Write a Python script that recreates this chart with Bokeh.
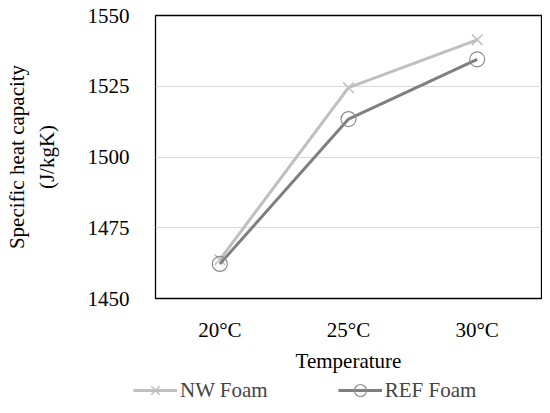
from bokeh.plotting import figure
from bokeh.layouts import column
from bokeh.models import Legend, LegendItem, FactorRange, Range1d, FixedTicker
from bokeh.embed import file_html
from bokeh.resources import INLINE

categories = ["20°C", "25°C", "30°C"]
nw_foam = [1463.7, 1524.5, 1541.4]
ref_foam = [1462.2, 1513.4, 1534.5]
y_ticks = [1450, 1475, 1500, 1525, 1550]
series_names = ["NW Foam", "REF Foam"]

FONT = "Liberation Serif"
NW_C = "#BFBFBF"
REF_C = "#7F7F7F"
CIRCLE_C = "#8C8C8C"

# ---------------- main chart ----------------
p = figure(width=542, height=375, x_range=FactorRange(*categories),
           y_range=Range1d(1450, 1550), output_backend="svg",
           toolbar_location=None, min_border_left=155, min_border_right=1,
           min_border_top=15, min_border_bottom=76)

p.outline_line_color = "black"
p.outline_line_width = 1.3
p.xgrid.grid_line_color = None
p.ygrid.grid_line_color = "#D9D9D9"
p.ygrid.grid_line_width = 1.2
p.yaxis.ticker = FixedTicker(ticks=y_ticks)

for ax in (p.xaxis[0], p.yaxis[0]):
    ax.axis_line_color = None
    ax.major_tick_line_color = None
    ax.minor_tick_line_color = None
    ax.major_label_text_font = FONT
    ax.major_label_text_font_size = "21px"
    ax.major_label_text_color = "black"
    ax.axis_label_text_font = FONT
    ax.axis_label_text_font_size = "21px"
    ax.axis_label_text_font_style = "normal"
    ax.axis_label_text_color = "black"

p.yaxis.major_label_standoff = 20
p.yaxis.axis_label = "Specific heat capacity\n(J/kgK)"
p.yaxis.axis_label_text_line_height = 1.25
p.yaxis.axis_label_standoff = 26
p.xaxis.major_label_standoff = 13
p.xaxis.axis_label = "Temperature"
p.xaxis.axis_label_standoff = 4

p.line(categories, nw_foam, line_color=NW_C, line_width=3)
p.scatter(categories, nw_foam, marker="x", size=15, line_color=NW_C, line_width=1.5)
p.line(categories, ref_foam, line_color=REF_C, line_width=3)
p.scatter(categories, ref_foam, marker="circle", size=15, line_color=CIRCLE_C,
          fill_color=None, line_width=1.2)

# ---------------- legend strip ----------------
# same series drawn through a range that keeps them out of view; only the legend shows
lg = figure(width=542, height=30, x_range=FactorRange(*categories),
            y_range=Range1d(0, 1), output_backend="svg", toolbar_location=None,
            min_border_left=0, min_border_right=0, min_border_top=0, min_border_bottom=0)
lg.axis.visible = False
lg.grid.grid_line_color = None
lg.outline_line_color = None

legend_x = 0
if "frame_align" in lg.properties():
    lg.frame_align = False
    p.frame_align = False
    legend_x = 133

r1 = lg.line(categories, nw_foam, line_color=NW_C, line_width=3)
k1 = lg.scatter(categories, nw_foam, marker="x", size=15, line_color=NW_C, line_width=1.5)
r2 = lg.line(categories, ref_foam, line_color=REF_C, line_width=3)
k2 = lg.scatter(categories, ref_foam, marker="circle", size=15, line_color=CIRCLE_C,
                fill_color=None, line_width=1.2)

legend = Legend(items=[LegendItem(label=series_names[0], renderers=[r1, k1]),
                       LegendItem(label=series_names[1], renderers=[r2, k2])],
                orientation="horizontal", location=(legend_x, 0),
                border_line_color=None, background_fill_alpha=0,
                label_text_font=FONT, label_text_font_size="21px",
                glyph_width=44, glyph_height=30, label_height=30,
                label_standoff=3, spacing=70, padding=0, margin=0)
lg.add_layout(legend)

layout = column(p, lg, spacing=0)
open("out.html", "w").write(file_html(layout, INLINE))
